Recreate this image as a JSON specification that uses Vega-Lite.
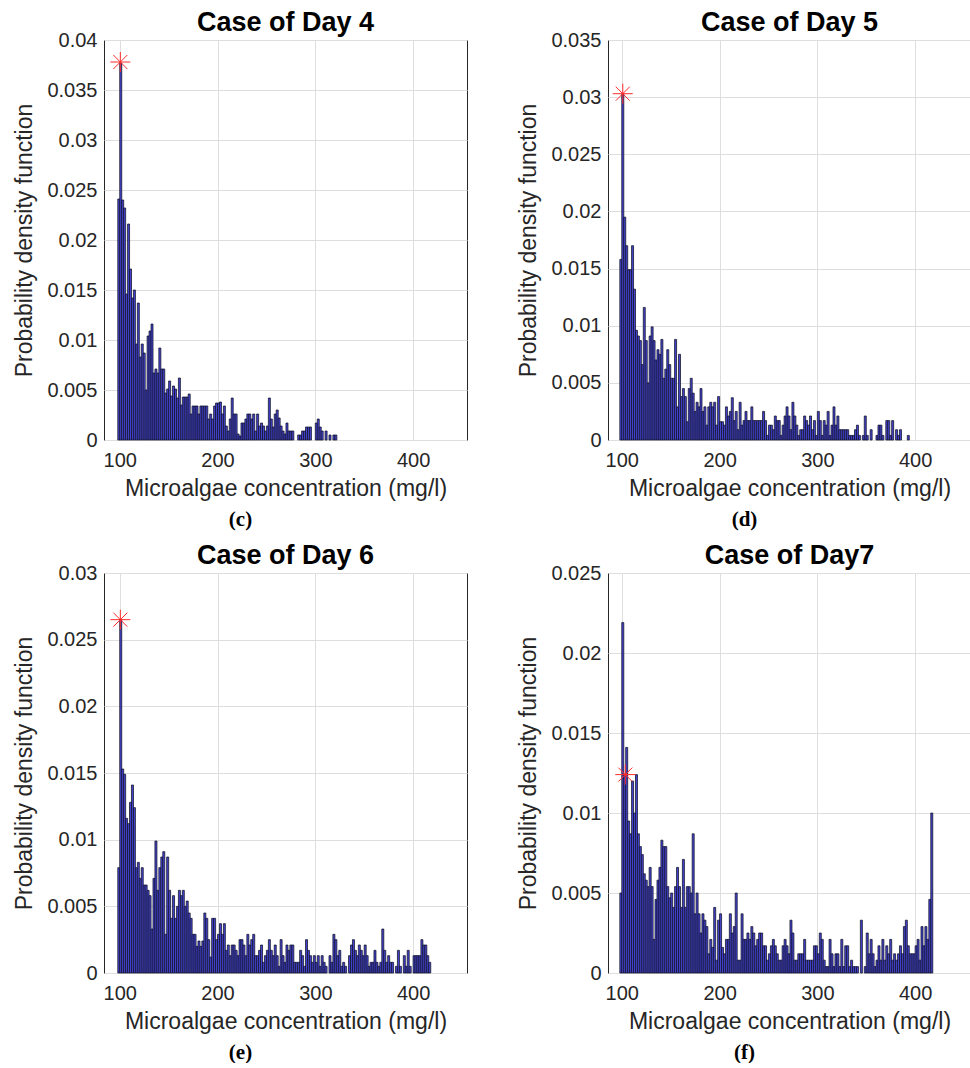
{
"$schema": "https://vega.github.io/schema/vega-lite/v6.json",
"padding": {"left": 13, "top": 8, "right": 0, "bottom": 0},
"background": "white",
"config": {
 "font": "Liberation Sans",
 "view": {"stroke": "#262626", "strokeWidth": 1},
 "axis": {"grid": true, "gridColor": "#dedede", "gridWidth": 1, "ticks": false, "domain": false, "labelFontSize": 20, "titleFontSize": 23, "labelColor": "#262626", "titleColor": "#262626", "titleFontWeight": "normal", "labelFont": "Liberation Sans", "titleFont": "Liberation Sans"},
 "axisX": {"titlePadding": 7, "labelPadding": 10},
 "axisY": {"titlePadding": 10, "labelPadding": 7},
 "title": {"fontSize": 27, "fontWeight": "bold", "color": "#000000", "anchor": "middle", "offset": -7, "font": "Liberation Sans"}
},
"datasets": {
 "d4": [{"x":99,"y":0.0241},{"x":101,"y":0.0377},{"x":103,"y":0.024},{"x":105,"y":0.0232},{"x":107,"y":0.0146},{"x":109,"y":0.0216},{"x":111,"y":0.0171},{"x":113,"y":0.0142},{"x":115,"y":0.015},{"x":117,"y":0.0096},{"x":119,"y":0.0137},{"x":121,"y":0.0083},{"x":123,"y":0.0096},{"x":125,"y":0.0087},{"x":127,"y":0.005},{"x":129,"y":0.0104},{"x":131,"y":0.0109},{"x":133,"y":0.0116},{"x":135,"y":0.0067},{"x":137,"y":0.0071},{"x":139,"y":0.0067},{"x":141,"y":0.0092},{"x":143,"y":0.0071},{"x":145,"y":0.0071},{"x":147,"y":0.0047},{"x":149,"y":0.0051},{"x":151,"y":0.0059},{"x":153,"y":0.0044},{"x":155,"y":0.0054},{"x":157,"y":0.0051},{"x":159,"y":0.0042},{"x":161,"y":0.0062},{"x":163,"y":0.0035},{"x":165,"y":0.0043},{"x":167,"y":0.0043},{"x":169,"y":0.0043},{"x":171,"y":0.0046},{"x":173,"y":0.0026},{"x":175,"y":0.0034},{"x":177,"y":0.0034},{"x":179,"y":0.0034},{"x":181,"y":0.0026},{"x":183,"y":0.0034},{"x":185,"y":0.0034},{"x":187,"y":0.0034},{"x":189,"y":0.0034},{"x":191,"y":0.0021},{"x":193,"y":0.0026},{"x":195,"y":0.0021},{"x":197,"y":0.0034},{"x":199,"y":0.0037},{"x":201,"y":0.0037},{"x":203,"y":0.0038},{"x":205,"y":0.0026},{"x":207,"y":0.0034},{"x":209,"y":0.0014},{"x":211,"y":0.0009},{"x":213,"y":0.0021},{"x":215,"y":0.0042},{"x":217,"y":0.0026},{"x":219,"y":0.0026},{"x":221,"y":0.0006},{"x":223,"y":0.0004},{"x":225,"y":0.0017},{"x":227,"y":0.0017},{"x":229,"y":0.0021},{"x":231,"y":0.0026},{"x":233,"y":0.0026},{"x":235,"y":0.0021},{"x":237,"y":0.0026},{"x":239,"y":0.0009},{"x":241,"y":0.0026},{"x":243,"y":0.0014},{"x":245,"y":0.0017},{"x":247,"y":0.0014},{"x":249,"y":0.0009},{"x":251,"y":0.0014},{"x":253,"y":0.0042},{"x":255,"y":0.0021},{"x":257,"y":0.0013},{"x":259,"y":0.0026},{"x":261,"y":0.003},{"x":263,"y":0.0022},{"x":265,"y":0.0014},{"x":267,"y":0.0009},{"x":269,"y":0.0006},{"x":271,"y":0.0017},{"x":273,"y":0.0009},{"x":275,"y":0.0009},{"x":277,"y":0.0009},{"x":283,"y":0.0005},{"x":285,"y":0.0005},{"x":287,"y":0.0009},{"x":289,"y":0.0009},{"x":291,"y":0.0013},{"x":293,"y":0.0013},{"x":295,"y":0.0013},{"x":301,"y":0.0017},{"x":303,"y":0.0021},{"x":305,"y":0.0013},{"x":307,"y":0.0009},{"x":311,"y":0.0009},{"x":315,"y":0.0005},{"x":319,"y":0.0005},{"x":321,"y":0.0005}],
 "d5": [{"x":99,"y":0.0158},{"x":101,"y":0.0303},{"x":103,"y":0.0195},{"x":105,"y":0.017},{"x":107,"y":0.0149},{"x":109,"y":0.0149},{"x":111,"y":0.017},{"x":113,"y":0.0132},{"x":115,"y":0.0096},{"x":117,"y":0.0091},{"x":119,"y":0.0087},{"x":121,"y":0.0066},{"x":123,"y":0.0116},{"x":125,"y":0.0087},{"x":127,"y":0.005},{"x":129,"y":0.0091},{"x":131,"y":0.0099},{"x":133,"y":0.0087},{"x":135,"y":0.007},{"x":137,"y":0.0079},{"x":139,"y":0.0075},{"x":141,"y":0.0088},{"x":143,"y":0.0054},{"x":145,"y":0.0062},{"x":147,"y":0.0079},{"x":149,"y":0.0066},{"x":151,"y":0.0054},{"x":153,"y":0.0054},{"x":155,"y":0.0088},{"x":157,"y":0.0029},{"x":159,"y":0.0075},{"x":161,"y":0.0038},{"x":163,"y":0.0045},{"x":165,"y":0.0038},{"x":167,"y":0.0016},{"x":169,"y":0.0045},{"x":171,"y":0.0054},{"x":173,"y":0.0041},{"x":175,"y":0.0025},{"x":177,"y":0.0033},{"x":179,"y":0.0029},{"x":181,"y":0.0045},{"x":183,"y":0.0025},{"x":185,"y":0.0029},{"x":187,"y":0.0013},{"x":189,"y":0.0029},{"x":191,"y":0.0033},{"x":193,"y":0.0029},{"x":195,"y":0.0033},{"x":197,"y":0.0013},{"x":199,"y":0.0038},{"x":201,"y":0.0016},{"x":203,"y":0.0016},{"x":205,"y":0.0013},{"x":207,"y":0.0029},{"x":209,"y":0.0021},{"x":211,"y":0.0025},{"x":213,"y":0.0037},{"x":215,"y":0.0017},{"x":217,"y":0.0025},{"x":219,"y":0.0009},{"x":221,"y":0.0033},{"x":223,"y":0.0013},{"x":225,"y":0.0017},{"x":227,"y":0.0025},{"x":229,"y":0.0017},{"x":231,"y":0.0017},{"x":233,"y":0.0029},{"x":235,"y":0.0017},{"x":237,"y":0.0017},{"x":239,"y":0.0017},{"x":241,"y":0.0017},{"x":243,"y":0.0017},{"x":245,"y":0.0025},{"x":247,"y":0.0017},{"x":249,"y":0.0004},{"x":251,"y":0.0013},{"x":253,"y":0.0013},{"x":255,"y":0.0009},{"x":257,"y":0.0021},{"x":259,"y":0.0017},{"x":261,"y":0.0017},{"x":263,"y":0.0004},{"x":265,"y":0.0013},{"x":267,"y":0.0021},{"x":269,"y":0.0029},{"x":271,"y":0.0021},{"x":273,"y":0.0009},{"x":275,"y":0.0033},{"x":277,"y":0.0021},{"x":279,"y":0.0013},{"x":281,"y":0.0004},{"x":283,"y":0.0009},{"x":285,"y":0.0009},{"x":287,"y":0.0021},{"x":289,"y":0.0017},{"x":291,"y":0.0013},{"x":293,"y":0.0021},{"x":295,"y":0.0009},{"x":297,"y":0.0017},{"x":299,"y":0.0004},{"x":301,"y":0.0025},{"x":303,"y":0.0017},{"x":305,"y":0.0004},{"x":307,"y":0.0017},{"x":309,"y":0.0013},{"x":311,"y":0.0025},{"x":313,"y":0.0004},{"x":315,"y":0.0013},{"x":317,"y":0.0029},{"x":319,"y":0.0013},{"x":321,"y":0.0021},{"x":323,"y":0.0009},{"x":325,"y":0.0009},{"x":327,"y":0.0009},{"x":329,"y":0.0009},{"x":331,"y":0.0009},{"x":333,"y":0.0004},{"x":335,"y":0.0004},{"x":337,"y":0.0004},{"x":339,"y":0.0009},{"x":341,"y":0.0013},{"x":343,"y":0.0004},{"x":347,"y":0.0004},{"x":349,"y":0.0021},{"x":351,"y":0.0004},{"x":355,"y":0.0009},{"x":361,"y":0.0004},{"x":363,"y":0.0013},{"x":365,"y":0.0013},{"x":367,"y":0.0004},{"x":371,"y":0.0017},{"x":373,"y":0.0017},{"x":375,"y":0.0004},{"x":377,"y":0.0017},{"x":381,"y":0.0009},{"x":383,"y":0.0004},{"x":385,"y":0.0009},{"x":393,"y":0.0004}],
 "d6": [{"x":99,"y":0.0079},{"x":101,"y":0.0265},{"x":103,"y":0.0153},{"x":105,"y":0.0149},{"x":107,"y":0.0116},{"x":109,"y":0.0112},{"x":111,"y":0.0128},{"x":113,"y":0.0141},{"x":115,"y":0.0124},{"x":117,"y":0.0079},{"x":119,"y":0.0083},{"x":121,"y":0.0071},{"x":123,"y":0.0079},{"x":125,"y":0.0066},{"x":127,"y":0.0066},{"x":129,"y":0.0062},{"x":131,"y":0.0058},{"x":133,"y":0.0033},{"x":135,"y":0.0071},{"x":137,"y":0.0099},{"x":139,"y":0.0062},{"x":141,"y":0.0079},{"x":143,"y":0.0087},{"x":145,"y":0.0091},{"x":147,"y":0.0029},{"x":149,"y":0.0087},{"x":151,"y":0.0062},{"x":153,"y":0.0041},{"x":155,"y":0.0058},{"x":157,"y":0.0041},{"x":159,"y":0.005},{"x":161,"y":0.0062},{"x":163,"y":0.0058},{"x":165,"y":0.0062},{"x":167,"y":0.005},{"x":169,"y":0.0054},{"x":171,"y":0.0045},{"x":173,"y":0.0041},{"x":175,"y":0.0029},{"x":177,"y":0.0029},{"x":179,"y":0.002},{"x":181,"y":0.0024},{"x":183,"y":0.002},{"x":185,"y":0.0024},{"x":187,"y":0.0045},{"x":189,"y":0.0041},{"x":191,"y":0.0025},{"x":193,"y":0.0012},{"x":195,"y":0.0041},{"x":197,"y":0.0041},{"x":199,"y":0.0025},{"x":201,"y":0.0029},{"x":203,"y":0.0037},{"x":205,"y":0.0029},{"x":207,"y":0.0037},{"x":209,"y":0.0017},{"x":211,"y":0.0021},{"x":213,"y":0.0013},{"x":215,"y":0.0021},{"x":217,"y":0.0021},{"x":219,"y":0.0017},{"x":221,"y":0.0013},{"x":223,"y":0.0025},{"x":225,"y":0.0025},{"x":227,"y":0.0021},{"x":229,"y":0.0013},{"x":231,"y":0.0029},{"x":233,"y":0.0021},{"x":235,"y":0.0025},{"x":237,"y":0.0029},{"x":239,"y":0.0013},{"x":241,"y":0.0013},{"x":243,"y":0.0017},{"x":245,"y":0.0021},{"x":247,"y":0.0008},{"x":249,"y":0.0013},{"x":251,"y":0.0017},{"x":253,"y":0.0025},{"x":255,"y":0.0017},{"x":257,"y":0.0013},{"x":259,"y":0.0021},{"x":261,"y":0.0013},{"x":263,"y":0.0005},{"x":265,"y":0.0025},{"x":267,"y":0.0013},{"x":269,"y":0.0008},{"x":271,"y":0.0021},{"x":273,"y":0.0017},{"x":275,"y":0.0021},{"x":277,"y":0.0021},{"x":279,"y":0.0008},{"x":281,"y":0.0008},{"x":283,"y":0.0008},{"x":285,"y":0.0017},{"x":287,"y":0.0013},{"x":289,"y":0.0005},{"x":291,"y":0.0025},{"x":293,"y":0.0017},{"x":295,"y":0.0013},{"x":297,"y":0.0008},{"x":299,"y":0.0013},{"x":301,"y":0.0008},{"x":303,"y":0.0013},{"x":305,"y":0.0005},{"x":307,"y":0.0013},{"x":309,"y":0.0008},{"x":311,"y":0.0005},{"x":315,"y":0.0013},{"x":317,"y":0.0008},{"x":319,"y":0.0029},{"x":321,"y":0.0025},{"x":323,"y":0.0013},{"x":325,"y":0.0017},{"x":327,"y":0.0005},{"x":329,"y":0.0008},{"x":331,"y":0.0005},{"x":335,"y":0.0013},{"x":337,"y":0.0021},{"x":339,"y":0.0025},{"x":341,"y":0.0017},{"x":343,"y":0.0013},{"x":345,"y":0.0021},{"x":347,"y":0.0017},{"x":349,"y":0.0013},{"x":351,"y":0.0021},{"x":353,"y":0.0013},{"x":355,"y":0.0005},{"x":357,"y":0.0008},{"x":359,"y":0.0008},{"x":361,"y":0.0017},{"x":363,"y":0.0008},{"x":365,"y":0.0005},{"x":367,"y":0.0008},{"x":369,"y":0.0033},{"x":371,"y":0.0017},{"x":373,"y":0.0008},{"x":375,"y":0.0013},{"x":377,"y":0.0008},{"x":379,"y":0.0008},{"x":383,"y":0.0005},{"x":385,"y":0.0017},{"x":387,"y":0.0005},{"x":391,"y":0.0013},{"x":393,"y":0.0005},{"x":395,"y":0.0017},{"x":397,"y":0.0005},{"x":401,"y":0.0013},{"x":403,"y":0.0013},{"x":405,"y":0.0013},{"x":407,"y":0.0013},{"x":409,"y":0.0025},{"x":411,"y":0.0021},{"x":413,"y":0.0021},{"x":415,"y":0.0013},{"x":417,"y":0.0008}],
 "d7": [{"x":99,"y":0.005},{"x":101,"y":0.0219},{"x":103,"y":0.0124},{"x":105,"y":0.0141},{"x":107,"y":0.0095},{"x":109,"y":0.0087},{"x":111,"y":0.012},{"x":113,"y":0.01},{"x":115,"y":0.0124},{"x":117,"y":0.0087},{"x":119,"y":0.0079},{"x":121,"y":0.0074},{"x":123,"y":0.0062},{"x":125,"y":0.0058},{"x":127,"y":0.0054},{"x":129,"y":0.0066},{"x":131,"y":0.0054},{"x":133,"y":0.0021},{"x":135,"y":0.0046},{"x":137,"y":0.0058},{"x":139,"y":0.0066},{"x":141,"y":0.0083},{"x":143,"y":0.0079},{"x":145,"y":0.0079},{"x":147,"y":0.0054},{"x":149,"y":0.0047},{"x":151,"y":0.005},{"x":153,"y":0.0041},{"x":155,"y":0.0054},{"x":157,"y":0.0066},{"x":159,"y":0.0054},{"x":161,"y":0.0041},{"x":163,"y":0.0071},{"x":165,"y":0.0041},{"x":167,"y":0.0054},{"x":169,"y":0.0054},{"x":171,"y":0.005},{"x":173,"y":0.0087},{"x":175,"y":0.0037},{"x":177,"y":0.005},{"x":179,"y":0.0037},{"x":181,"y":0.0025},{"x":183,"y":0.0037},{"x":185,"y":0.0033},{"x":187,"y":0.0029},{"x":189,"y":0.0012},{"x":191,"y":0.0021},{"x":193,"y":0.0016},{"x":195,"y":0.0041},{"x":197,"y":0.0008},{"x":199,"y":0.0033},{"x":201,"y":0.0037},{"x":203,"y":0.0016},{"x":205,"y":0.0012},{"x":207,"y":0.0021},{"x":209,"y":0.0021},{"x":211,"y":0.0037},{"x":213,"y":0.0025},{"x":215,"y":0.0029},{"x":217,"y":0.005},{"x":219,"y":0.0008},{"x":221,"y":0.0008},{"x":223,"y":0.0037},{"x":225,"y":0.0021},{"x":227,"y":0.0021},{"x":229,"y":0.0025},{"x":231,"y":0.0021},{"x":233,"y":0.0029},{"x":235,"y":0.0025},{"x":237,"y":0.0017},{"x":239,"y":0.0021},{"x":241,"y":0.0025},{"x":243,"y":0.0025},{"x":245,"y":0.0017},{"x":247,"y":0.0017},{"x":249,"y":0.0008},{"x":251,"y":0.0012},{"x":253,"y":0.0017},{"x":255,"y":0.0021},{"x":257,"y":0.0017},{"x":259,"y":0.0012},{"x":261,"y":0.0008},{"x":263,"y":0.0008},{"x":265,"y":0.0017},{"x":267,"y":0.0021},{"x":269,"y":0.0017},{"x":271,"y":0.0012},{"x":273,"y":0.0033},{"x":275,"y":0.0025},{"x":277,"y":0.0008},{"x":279,"y":0.0008},{"x":281,"y":0.0012},{"x":283,"y":0.0012},{"x":285,"y":0.0012},{"x":287,"y":0.0021},{"x":289,"y":0.0008},{"x":291,"y":0.0008},{"x":293,"y":0.0008},{"x":295,"y":0.0008},{"x":297,"y":0.0017},{"x":299,"y":0.0017},{"x":301,"y":0.0012},{"x":303,"y":0.0025},{"x":305,"y":0.0021},{"x":307,"y":0.0008},{"x":309,"y":0.0004},{"x":311,"y":0.0004},{"x":313,"y":0.0021},{"x":315,"y":0.0012},{"x":317,"y":0.0004},{"x":319,"y":0.0012},{"x":321,"y":0.0012},{"x":323,"y":0.0004},{"x":325,"y":0.0021},{"x":327,"y":0.0004},{"x":329,"y":0.0017},{"x":331,"y":0.0017},{"x":333,"y":0.0004},{"x":335,"y":0.0008},{"x":337,"y":0.0004},{"x":339,"y":0.0004},{"x":341,"y":0.0004},{"x":345,"y":0.0033},{"x":349,"y":0.0004},{"x":351,"y":0.0025},{"x":353,"y":0.0012},{"x":355,"y":0.0021},{"x":357,"y":0.0012},{"x":359,"y":0.0004},{"x":361,"y":0.0008},{"x":363,"y":0.0017},{"x":365,"y":0.0008},{"x":367,"y":0.0021},{"x":369,"y":0.0008},{"x":371,"y":0.0017},{"x":373,"y":0.0012},{"x":375,"y":0.0021},{"x":377,"y":0.0008},{"x":379,"y":0.0012},{"x":381,"y":0.0008},{"x":383,"y":0.0012},{"x":385,"y":0.0017},{"x":387,"y":0.0012},{"x":389,"y":0.0029},{"x":391,"y":0.0033},{"x":393,"y":0.0017},{"x":395,"y":0.0012},{"x":397,"y":0.0012},{"x":399,"y":0.0012},{"x":401,"y":0.0017},{"x":403,"y":0.0021},{"x":405,"y":0.0008},{"x":407,"y":0.0029},{"x":409,"y":0.0017},{"x":411,"y":0.0029},{"x":413,"y":0.0021},{"x":415,"y":0.0046},{"x":417,"y":0.01}],
 "s4": [{"x":100.6,"y":0.0378}],
 "s5": [{"x":101,"y":0.0303}],
 "s6": [{"x":100.6,"y":0.0265}],
 "s7": [{"x":103.6,"y":0.0124}]
},
"spacing": 11,
"vconcat": [
 {"hconcat": [
  {"title": {"text": "(c)", "orient": "bottom", "font": "Liberation Serif", "fontSize": 21, "fontWeight": "bold", "anchor": "middle", "offset": 8},
   "vconcat": [{"width": 363, "height": 400, "title": "Case of Day 4",
    "layer": [
     {"data": {"name": "d4"}, "mark": {"type": "bar", "width": 2.01, "fill": "#4343d0", "stroke": "#121224", "strokeWidth": 0.75},
      "encoding": {"x": {"field": "x", "type": "quantitative", "scale": {"domain": [89, 450], "nice": false, "zero": false}, "axis": {"values": [100, 200, 300, 400], "title": "Microalgae concentration (mg/l)"}},
                   "y": {"field": "y", "type": "quantitative", "scale": {"domain": [0, 0.04], "nice": false}, "axis": {"values": [0, 0.005, 0.01, 0.015, 0.02, 0.025, 0.03, 0.035, 0.04], "format": ".3~f", "title": "Probability density function"}}}},
     {"data": {"name": "s4"}, "mark": {"type": "point", "shape": "M-1,0L1,0M0,-1L0,1M-0.7,-0.7L0.7,0.7M-0.7,0.7L0.7,-0.7", "size": 400, "filled": false, "stroke": "#ff2a2a", "strokeWidth": 1, "opacity": 1},
      "encoding": {"x": {"field": "x", "type": "quantitative"}, "y": {"field": "y", "type": "quantitative"}}}
    ]}]},
  {"title": {"text": "(d)", "orient": "bottom", "font": "Liberation Serif", "fontSize": 21, "fontWeight": "bold", "anchor": "middle", "offset": 8},
   "vconcat": [{"width": 363, "height": 400, "title": "Case of Day 5",
    "layer": [
     {"data": {"name": "d5"}, "mark": {"type": "bar", "width": 2.01, "fill": "#4343d0", "stroke": "#121224", "strokeWidth": 0.75},
      "encoding": {"x": {"field": "x", "type": "quantitative", "scale": {"domain": [91, 452], "nice": false, "zero": false}, "axis": {"values": [100, 200, 300, 400], "title": "Microalgae concentration (mg/l)"}},
                   "y": {"field": "y", "type": "quantitative", "scale": {"domain": [0, 0.035], "nice": false}, "axis": {"values": [0, 0.005, 0.01, 0.015, 0.02, 0.025, 0.03, 0.035], "format": ".3~f", "title": "Probability density function"}}}},
     {"data": {"name": "s5"}, "mark": {"type": "point", "shape": "M-1,0L1,0M0,-1L0,1M-0.7,-0.7L0.7,0.7M-0.7,0.7L0.7,-0.7", "size": 400, "filled": false, "stroke": "#ff2a2a", "strokeWidth": 1, "opacity": 1},
      "encoding": {"x": {"field": "x", "type": "quantitative"}, "y": {"field": "y", "type": "quantitative"}}}
    ]}]}
 ], "spacing": 49},
 {"hconcat": [
  {"title": {"text": "(e)", "orient": "bottom", "font": "Liberation Serif", "fontSize": 21, "fontWeight": "bold", "anchor": "middle", "offset": 8},
   "vconcat": [{"width": 363, "height": 400, "title": "Case of Day 6",
    "layer": [
     {"data": {"name": "d6"}, "mark": {"type": "bar", "width": 2.01, "fill": "#4343d0", "stroke": "#121224", "strokeWidth": 0.75},
      "encoding": {"x": {"field": "x", "type": "quantitative", "scale": {"domain": [89, 450], "nice": false, "zero": false}, "axis": {"values": [100, 200, 300, 400], "title": "Microalgae concentration (mg/l)"}},
                   "y": {"field": "y", "type": "quantitative", "scale": {"domain": [0, 0.03], "nice": false}, "axis": {"values": [0, 0.005, 0.01, 0.015, 0.02, 0.025, 0.03], "format": ".3~f", "title": "Probability density function"}}}},
     {"data": {"name": "s6"}, "mark": {"type": "point", "shape": "M-1,0L1,0M0,-1L0,1M-0.7,-0.7L0.7,0.7M-0.7,0.7L0.7,-0.7", "size": 400, "filled": false, "stroke": "#ff2a2a", "strokeWidth": 1, "opacity": 1},
      "encoding": {"x": {"field": "x", "type": "quantitative"}, "y": {"field": "y", "type": "quantitative"}}}
    ]}]},
  {"title": {"text": "(f)", "orient": "bottom", "font": "Liberation Serif", "fontSize": 21, "fontWeight": "bold", "anchor": "middle", "offset": 8},
   "vconcat": [{"width": 363, "height": 400, "title": "Case of Day7",
    "layer": [
     {"data": {"name": "d7"}, "mark": {"type": "bar", "width": 2.01, "fill": "#4343d0", "stroke": "#121224", "strokeWidth": 0.75},
      "encoding": {"x": {"field": "x", "type": "quantitative", "scale": {"domain": [91, 452], "nice": false, "zero": false}, "axis": {"values": [100, 200, 300, 400], "title": "Microalgae concentration (mg/l)"}},
                   "y": {"field": "y", "type": "quantitative", "scale": {"domain": [0, 0.025], "nice": false}, "axis": {"values": [0, 0.005, 0.01, 0.015, 0.02, 0.025], "format": ".3~f", "title": "Probability density function"}}}},
     {"data": {"name": "s7"}, "mark": {"type": "point", "shape": "M-1,0L1,0M0,-1L0,1M-0.7,-0.7L0.7,0.7M-0.7,0.7L0.7,-0.7", "size": 400, "filled": false, "stroke": "#ff2a2a", "strokeWidth": 1, "opacity": 1},
      "encoding": {"x": {"field": "x", "type": "quantitative"}, "y": {"field": "y", "type": "quantitative"}}}
    ]}]}
 ], "spacing": 49}
]
}
